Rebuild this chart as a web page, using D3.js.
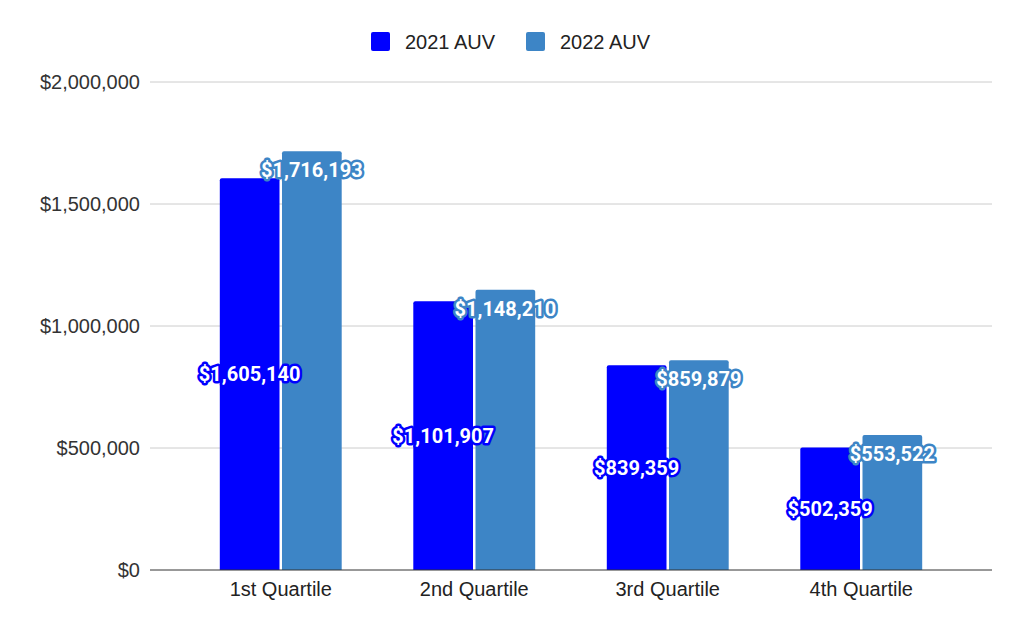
<!DOCTYPE html>
<html>
<head>
<meta charset="utf-8">
<script src="https://cdn.jsdelivr.net/npm/d3@7"></script>
<style>
  body { margin: 0; background: #fff; }
  svg { display: block; }
</style>
</head>
<body>
<svg width="1024" height="633"></svg>
<script>
const categories = ['1st Quartile', '2nd Quartile', '3rd Quartile', '4th Quartile']
const series_names = ['2021 AUV', '2022 AUV']
const auv_2021 = [1605140, 1101907, 839359, 502359]
const auv_2022 = [1716193, 1148210, 859879, 553522]
const y_ticks = [0, 500000, 1000000, 1500000, 2000000]
const colors = ['#0000ff', '#3d85c6']

const svg = d3.select('svg')
const width = 1024
const height = 633

const plot = { left: 150, right: 992, top: 82, bottom: 570 }

// one row per category, with both years
const data = categories.map((c, i) => ({ cat: c, values: [auv_2021[i], auv_2022[i]] }))

const y_scale = d3.scaleLinear()
    .domain([0, 2000000])
    .range([plot.bottom, plot.top])

const x_scale = d3.scaleBand()
    .domain(categories)
    .range([184, 958])
    .paddingInner(0.37)
    .paddingOuter(0.185)

const x_inner = d3.scaleBand()
    .domain([0, 1])
    .range([0, x_scale.bandwidth()])
    .paddingInner(0.04)

const money = d => '$' + d3.format(',')(d)

// gridlines
svg.append('g')
    .selectAll('line')
    .data(y_ticks.filter(d => d > 0))
    .enter().append('line')
    .attr('x1', plot.left)
    .attr('x2', plot.right)
    .attr('y1', d => y_scale(d))
    .attr('y2', d => y_scale(d))
    .attr('stroke', '#cccccc')
    .attr('stroke-width', 1)

// y axis labels
const y_axis = svg.append('g')
    .attr('transform', `translate(${plot.left},0)`)
    .call(d3.axisLeft(y_scale).tickValues(y_ticks).tickFormat(money).tickSize(0).tickPadding(10))
y_axis.select('.domain').remove()
y_axis.selectAll('text')
    .attr('fill', '#333')
    .style('font-family', 'Liberation Sans, Arial, sans-serif')
    .style('font-size', '20px')

// bars
const groups = svg.append('g')
    .selectAll('g')
    .data(data)
    .enter().append('g')
    .attr('transform', d => `translate(${x_scale(d.cat)},0)`)

groups.selectAll('path')
    .data(d => d.values)
    .enter().append('path')
    .attr('fill', (d, i) => colors[i])
    .attr('d', (d, i) => {
        const x0 = x_inner(i), w = x_inner.bandwidth()
        const y0 = y_scale(d), y1 = y_scale(0), r = 2
        return `M${x0},${y1}V${y0 + r}Q${x0},${y0} ${x0 + r},${y0}H${x0 + w - r}Q${x0 + w},${y0} ${x0 + w},${y0 + r}V${y1}Z`
    })

// value labels: 2021 in the middle of the bar, 2022 near the top
groups.selectAll('text')
    .data(d => d.values)
    .enter().append('text')
    .attr('x', (d, i) => x_inner(i) + x_inner.bandwidth() / 2)
    .attr('y', (d, i) => i === 0 ? (y_scale(d) + y_scale(0)) / 2 : y_scale(d) + 19)
    .attr('dy', '0.35em')
    .attr('text-anchor', 'middle')
    .attr('fill', '#fff')
    .attr('stroke', (d, i) => colors[i])
    .attr('stroke-width', 5)
    .attr('stroke-linejoin', 'round')
    .attr('paint-order', 'stroke')
    .style('font-family', 'Roboto, sans-serif')
    .style('font-weight', 'bold')
    .style('font-size', '20px')
    .text(money)

// baseline
svg.append('line')
    .attr('x1', plot.left)
    .attr('x2', plot.right)
    .attr('y1', y_scale(0))
    .attr('y2', y_scale(0))
    .attr('stroke', '#333')
    .attr('stroke-width', 1)

// x axis labels
const x_axis = svg.append('g')
    .attr('transform', `translate(0,${plot.bottom})`)
    .call(d3.axisBottom(x_scale).tickSize(0).tickPadding(12))
x_axis.select('.domain').remove()
x_axis.selectAll('text')
    .attr('fill', '#222')
    .style('font-family', 'Liberation Sans, Arial, sans-serif')
    .style('font-size', '20px')

// legend
const legend_x = [371, 526]
const legend = svg.append('g')
    .selectAll('g')
    .data(series_names)
    .enter().append('g')
    .attr('transform', (d, i) => `translate(${legend_x[i]},32)`)

legend.append('rect')
    .attr('width', 19)
    .attr('height', 19)
    .attr('rx', 2)
    .attr('fill', (d, i) => colors[i])

legend.append('text')
    .attr('x', 34)
    .attr('y', 10)
    .attr('dy', '0.35em')
    .attr('fill', '#222')
    .style('font-family', 'Liberation Sans, Arial, sans-serif')
    .style('font-size', '20px')
    .text(d => d)
</script>
</body>
</html>
